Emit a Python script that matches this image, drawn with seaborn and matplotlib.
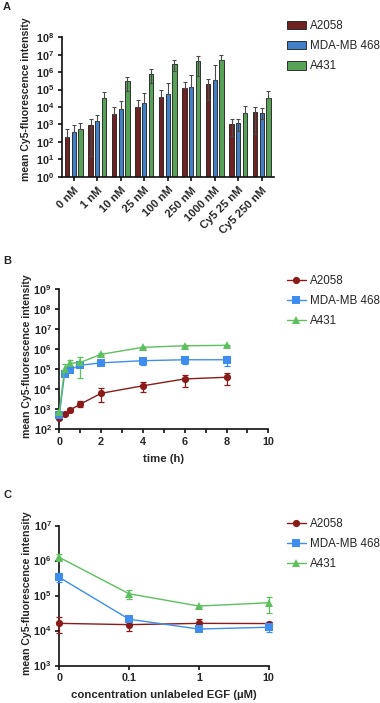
import numpy as np
import pandas as pd
import matplotlib
matplotlib.use('Agg')
import matplotlib.pyplot as plt
import seaborn as sns
from matplotlib.ticker import FixedLocator, FixedFormatter, NullLocator, MultipleLocator

sns.set_theme(style='ticks')
plt.rcParams['font.family'] = ['Liberation Sans', 'DejaVu Sans']
plt.rcParams['mathtext.fontset'] = 'custom'
plt.rcParams['mathtext.rm'] = 'Liberation Sans'
plt.rcParams['mathtext.bf'] = 'Liberation Sans:bold'
plt.rcParams['mathtext.it'] = 'Liberation Sans:italic'

nan = np.nan
cell_lines = ['A2058', 'MDA-MB 468', 'A431']
bar_colors = ['#7a1616', '#2a7ee0', '#4cae4c']
line_colors = ['#8b1a1a', '#3d8ef0', '#5dbf5d']
markers = ['o', 's', '^']

# ---------------- Panel A data ----------------
conc_labels = ['0 nM', '1 nM', '10 nM', '25 nM', '100 nM', '250 nM', '1000 nM',
               'Cy5 25 nM', 'Cy5 250 nM']
a2058_mean = [200, 970, 4.1e3, 1.04e4, 3.8e4, 1.2e5, 2.0e5, 1.07e3, 5.0e3]
a2058_hi = [570, 2.0e3, 9.6e3, 2.4e4, 1.0e5, 2.6e5, 4.1e5, 2.0e3, 1.0e4]
a2058_lo = [nan, 15, nan, nan, nan, nan, 2.5e4, 217, 270]
mda_mean = [380, 1.5e3, 7.7e3, 1.8e4, 5.6e4, 1.4e5, 3.5e5, 1.17e3, 4.7e3]
mda_hi = [930, 3.6e3, 2.2e4, 6.1e4, 2.3e5, 6.6e5, 2.6e6, 2.0e3, 8.5e3]
mda_lo = [nan, nan, nan, nan, nan, nan, nan, 420, 2.0e3]
a431_mean = [550, 3.3e4, 3.1e5, 7.6e5, 2.8e6, 4.6e6, 5.0e6, 4.4e3, 3.3e4]
a431_hi = [1.26e3, 7.0e4, 5.5e5, 1.47e6, 4.8e6, 8.8e6, 1.0e7, 1.1e4, 8.3e4]
a431_lo = [nan, nan, 8.7e4, 2.5e5, 1.2e6, 5.8e5, nan, nan, nan]

# ---------------- Panel B data ----------------
time_h = [0, 0.25, 0.5, 1, 2, 4, 6, 8]
b_a2058 = [380, 580, 900, 1.8e3, 6.3e3, 1.5e4, 3.3e4, 4.0e4]
b_a2058_hi = [450, 680, 1.1e3, 2.6e3, 1.1e4, 2.2e4, 5.3e4, 6.5e4]
b_a2058_lo = [320, 500, 720, 1.3e3, 2.4e3, 7.3e3, 1.26e4, 1.7e4]
b_mda = [500, 5.8e4, 9.5e4, 1.6e5, 2.1e5, 2.7e5, 3.0e5, 3.0e5]
b_mda_hi = [560, 7.0e4, 1.15e5, 1.9e5, 2.6e5, 3.8e5, 4.3e5, 4.6e5]
b_mda_lo = [450, 5.0e4, 8.0e4, 1.3e5, 1.7e5, 1.7e5, 1.8e5, 1.46e5]
b_a431 = [740, 1.0e5, 2.0e5, 2.2e5, 5.6e5, 1.26e6, 1.5e6, 1.58e6]
b_a431_hi = [800, 1.8e5, 3.0e5, 4.2e5, 6.2e5, 1.35e6, 1.6e6, 1.7e6]
b_a431_lo = [680, 7.0e4, 1.4e5, 3.7e4, 5.0e5, 1.15e6, 1.4e6, 1.45e6]

# ---------------- Panel C data ----------------
egf_labels = ['0', '0.1', '1', '10']
c_a2058 = [1.6e4, 1.47e4, 1.6e4, 1.58e4]
c_a2058_hi = [2.4e4, 2.1e4, 2.2e4, 1.8e4]
c_a2058_lo = [8.3e3, 9.8e3, 1.2e4, 1.4e4]
c_mda = [3.3e5, 2.1e4, 1.1e4, 1.24e4]
c_mda_hi = [4.3e5, 2.3e4, 1.25e4, 1.7e4]
c_mda_lo = [2.4e5, 1.9e4, 9.5e3, 9.0e3]
c_a431 = [1.23e6, 1.12e5, 5.0e4, 6.2e4]
c_a431_hi = [1.55e6, 1.47e5, 5.4e4, 9.3e4]
c_a431_lo = [1.0e6, 7.9e4, 4.6e4, 3.1e4]

W, H = 380, 703
fig = plt.figure(figsize=(W / 100, H / 100), dpi=100)

def ax_at(x0, x1, y0, y1):
    return fig.add_axes([x0 / W, 1 - y1 / H, (x1 - x0) / W, (y1 - y0) / H])

axA = ax_at(62, 273.5, 37.3, 176.7)
axB = ax_at(59.3, 268.3, 289.3, 429.3)
axC = ax_at(59.3, 268.7, 525.5, 665.5)

SP = 1.2
TICK_FS = 7.8
LABEL_FS = 7.6
XLABEL_FS = 8.2
LEG_FS = 8.4

def style_axis(ax, lo_exp, hi_exp, label_x, label_y):
    ax.set_yscale('log')
    ax.set_ylim(10.0 ** lo_exp, 10.0 ** hi_exp)
    exps = list(range(lo_exp, hi_exp + 1))
    ax.yaxis.set_major_locator(FixedLocator([10.0 ** e for e in exps]))
    ax.yaxis.set_major_formatter(FixedFormatter([r'$\mathbf{10^{%d}}$' % e for e in exps]))
    ax.yaxis.set_minor_locator(NullLocator())
    for s in ['top', 'right']:
        ax.spines[s].set_visible(False)
    for s in ['left', 'bottom']:
        ax.spines[s].set_linewidth(SP)
        ax.spines[s].set_color('#111111')
    ax.tick_params(axis='both', which='both', width=SP, length=3, color='#111111',
                   labelsize=TICK_FS, pad=2.5)
    for lab in ax.get_xticklabels() + ax.get_yticklabels():
        lab.set_fontweight('bold')
    ax.set_ylabel('mean Cy5-fluorescence intensity', fontsize=LABEL_FS,
                  fontweight='bold')
    ax.yaxis.set_label_coords(label_x, label_y)
    ax.grid(False)

# ---------------- Panel A ----------------
dfA = pd.DataFrame({
    'cond': conc_labels * 3,
    'line': np.repeat(cell_lines, len(conc_labels)),
    'val': a2058_mean + mda_mean + a431_mean,
})
axA.set_yscale('log')
sns.barplot(data=dfA, x='cond', y='val', hue='line', order=conc_labels,
            hue_order=cell_lines, palette=bar_colors, width=0.86, gap=0.35,
            errorbar=None, edgecolor='#1a1a1a', linewidth=0.6, ax=axA)
means = [a2058_mean, mda_mean, a431_mean]
his = [a2058_hi, mda_hi, a431_hi]
los = [a2058_lo, mda_lo, a431_lo]
for cont, m, hi, lo in zip(axA.containers, means, his, los):
    xs = [b.get_x() + b.get_width() / 2 for b in cont]
    m = np.array(m, float)
    up = np.array(hi, float) - m
    lo = np.array(lo, float)
    down = m - np.where(np.isnan(lo), m, lo)
    axA.errorbar(xs, m, yerr=[down, up], fmt='none', ecolor='#4a4a4a',
                 elinewidth=0.8, capsize=1.4, capthick=0.8, zorder=3)
axA.set_xlim(-0.5, len(conc_labels) - 0.5)
style_axis(axA, 0, 8, -0.145, 0.56)
axA.set_xlabel('')
axA.set_xticks(range(len(conc_labels)))
axA.set_xticklabels(conc_labels, rotation=45, ha='right', rotation_mode='anchor',
                    fontsize=8.0, fontweight='bold')
axA.tick_params(axis='x', pad=3)
hA, lA = axA.get_legend_handles_labels()
axA.legend(hA, lA, loc='upper left', bbox_to_anchor=(287 / W, 1 - 20 / H),
           bbox_transform=fig.transFigure, frameon=False, fontsize=LEG_FS,
           handlelength=1.6, handleheight=0.75, handletextpad=0.4,
           labelspacing=0.7, borderpad=0, borderaxespad=0)

# ---------------- Panel B ----------------
dfB = pd.DataFrame({
    'time': time_h * 3,
    'line': np.repeat(cell_lines, len(time_h)),
    'val': b_a2058 + b_mda + b_a431,
})
axB.set_yscale('log')
sns.lineplot(data=dfB, x='time', y='val', hue='line', style='line',
             hue_order=cell_lines, style_order=cell_lines, palette=line_colors,
             markers=dict(zip(cell_lines, markers)), dashes=False, errorbar=None,
             markersize=5.2, markeredgewidth=0, linewidth=1.0, ax=axB,
             clip_on=False, zorder=4)
for m, hi, lo, col in zip([b_a2058, b_mda, b_a431], [b_a2058_hi, b_mda_hi, b_a431_hi],
                          [b_a2058_lo, b_mda_lo, b_a431_lo], line_colors):
    m = np.array(m, float)
    axB.errorbar(time_h, m, yerr=[m - np.array(lo), np.array(hi) - m], fmt='none',
                 ecolor=col, elinewidth=0.9, capsize=2.2, capthick=0.9, zorder=3,
                 clip_on=False)
axB.set_xlim(0, 10)
style_axis(axB, 2, 9, -0.132, 0.525)
axB.xaxis.set_major_locator(MultipleLocator(2))
axB.xaxis.set_minor_locator(MultipleLocator(1))
axB.tick_params(axis='x', which='minor', length=3, width=SP)
for lab in axB.get_xticklabels():
    lab.set_fontweight('bold')
axB.set_xlabel('time (h)', fontsize=XLABEL_FS, fontweight='bold', labelpad=5)
hB, lB = axB.get_legend_handles_labels()
axB.legend(hB, lB, loc='upper left', bbox_to_anchor=(287 / W, 1 - 275 / H),
           bbox_transform=fig.transFigure, frameon=False, fontsize=LEG_FS,
           handlelength=1.6, handletextpad=0.4, labelspacing=0.7,
           borderpad=0, borderaxespad=0)

# ---------------- Panel C ----------------
egf_pos = np.arange(len(egf_labels))
dfC = pd.DataFrame({
    'pos': list(egf_pos) * 3,
    'line': np.repeat(cell_lines, len(egf_labels)),
    'val': c_a2058 + c_mda + c_a431,
})
axC.set_yscale('log')
sns.lineplot(data=dfC, x='pos', y='val', hue='line', style='line',
             hue_order=cell_lines, style_order=cell_lines, palette=line_colors,
             markers=dict(zip(cell_lines, markers)), dashes=False, errorbar=None,
             markersize=5.2, markeredgewidth=0, linewidth=1.0, ax=axC,
             clip_on=False, zorder=4)
for m, hi, lo, col in zip([c_a2058, c_mda, c_a431], [c_a2058_hi, c_mda_hi, c_a431_hi],
                          [c_a2058_lo, c_mda_lo, c_a431_lo], line_colors):
    m = np.array(m, float)
    axC.errorbar(egf_pos, m, yerr=[m - np.array(lo), np.array(hi) - m], fmt='none',
                 ecolor=col, elinewidth=0.9, capsize=2.2, capthick=0.9, zorder=3,
                 clip_on=False)
axC.set_xlim(0, len(egf_labels) - 1)
style_axis(axC, 3, 7, -0.131, 0.52)
axC.set_xticks(egf_pos)
axC.set_xticklabels(egf_labels, fontweight='bold', fontsize=TICK_FS)
axC.set_xlabel('concentration unlabeled EGF (µM)', fontsize=XLABEL_FS,
               fontweight='bold', labelpad=5)
hC, lC = axC.get_legend_handles_labels()
axC.legend(hC, lC, loc='upper left', bbox_to_anchor=(287 / W, 1 - 518 / H),
           bbox_transform=fig.transFigure, frameon=False, fontsize=LEG_FS,
           handlelength=1.6, handletextpad=0.4, labelspacing=0.7,
           borderpad=0, borderaxespad=0)

# Panel letters
for letter, ypix in [('A', 2), ('B', 256), ('C', 490)]:
    fig.text(3 / W, 1 - ypix / H, letter, fontsize=8, fontweight='bold',
             va='top', ha='left')

fig.savefig('out.png', dpi=100)
